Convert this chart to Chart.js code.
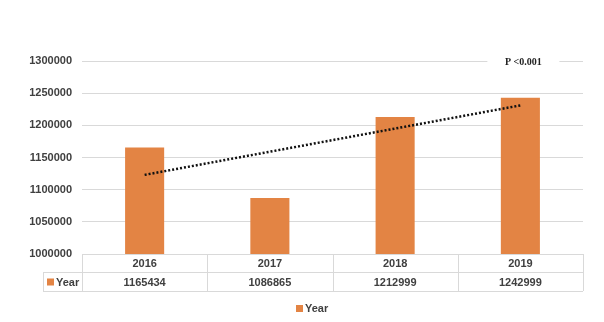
<!DOCTYPE html>
<html>
<head>
<meta charset="utf-8">
<script src="https://cdn.jsdelivr.net/npm/chart.js@4/dist/chart.umd.min.js"></script>
<style>
  html, body { margin: 0; padding: 0; background: #fff; }
  #wrap { width: 604px; height: 322px; }
</style>
</head>
<body>
<div id="wrap"><canvas id="chart" width="604" height="322"></canvas></div>
<script>
// values
const years = ["2016", "2017", "2018", "2019"];
const yearValues = [1165434, 1086865, 1212999, 1242999];
// dotted trend line, ends
const trendValues = [1123000, null, null, 1231000];
const seriesName = "Year";
const pLabel = "P <0.001";

const orange = "#E38444";
const gridColor = "#d9d9d9";
const textColor = "#404040";
const font = "bold 11px 'Liberation Sans', Arial, sans-serif";

// draws the data table under the plot, the bottom legend and the P label
const tablePlugin = {
  id: "tablePlugin",
  afterDraw(chart) {
    const ctx = chart.ctx;
    const x = chart.scales.x;
    const area = chart.chartArea;
    const n = years.length;
    const colW = (area.right - area.left) / n;
    const top = area.bottom;
    const mid = top + 18;
    const bot = mid + 19;
    const legendLeft = 43;

    ctx.save();
    ctx.strokeStyle = gridColor;
    ctx.lineWidth = 1;
    ctx.beginPath();
    // horizontal lines
    ctx.moveTo(area.left, top + 0.5); ctx.lineTo(area.right, top + 0.5);
    ctx.moveTo(legendLeft, mid + 0.5); ctx.lineTo(area.right, mid + 0.5);
    ctx.moveTo(legendLeft, bot + 0.5); ctx.lineTo(area.right, bot + 0.5);
    // vertical lines
    for (let i = 0; i <= n; i++) {
      const xx = Math.round(area.left + i * colW) + 0.5;
      ctx.moveTo(xx, top); ctx.lineTo(xx, bot);
    }
    ctx.moveTo(legendLeft + 0.5, mid); ctx.lineTo(legendLeft + 0.5, bot);
    ctx.stroke();

    ctx.font = font;
    ctx.fillStyle = textColor;
    ctx.textAlign = "center";
    ctx.textBaseline = "middle";
    years.forEach((y, i) => {
      const cx = x.getPixelForValue(i);
      ctx.fillText(y, cx, (top + mid) / 2 + 1);
      ctx.fillText(String(yearValues[i]), cx, (mid + bot) / 2 + 1);
    });

    // legend key inside the table
    ctx.fillStyle = orange;
    ctx.fillRect(legendLeft + 4, (mid + bot) / 2 - 3, 7, 7);
    ctx.fillStyle = textColor;
    ctx.textAlign = "left";
    ctx.fillText(seriesName, legendLeft + 13, (mid + bot) / 2 + 1);

    // bottom legend
    const ly = 308;
    ctx.fillStyle = orange;
    ctx.fillRect(296, ly - 3, 7, 7);
    ctx.fillStyle = textColor;
    ctx.fillText(seriesName, 305, ly + 1);

    // P label sitting on the top gridline
    const px = x.getPixelForValue(n - 1) + 3;
    const py = chart.scales.y.getPixelForValue(1300000);
    ctx.fillStyle = "#fff";
    ctx.fillRect(px - 36, py - 6, 72, 12);
    ctx.font = "bold 10px 'Liberation Serif', 'Times New Roman', serif";
    ctx.fillStyle = "#222";
    ctx.textAlign = "center";
    ctx.fillText(pLabel, px, py + 1);
    ctx.restore();
  }
};

new Chart(document.getElementById("chart"), {
  type: "bar",
  data: {
    labels: years,
    datasets: [
      {
        type: "line",
        label: "Trend",
        data: trendValues,
        spanGaps: true,
        borderColor: "#111",
        borderWidth: 2.5,
        borderDash: [2, 2],
        pointRadius: 0,
        fill: false,
        order: 0
      },
      {
        label: seriesName,
        data: yearValues,
        backgroundColor: orange,
        borderWidth: 0,
        categoryPercentage: 0.8,
        barPercentage: 0.39,
        order: 1
      }
    ]
  },
  options: {
    responsive: false,
    animation: false,
    layout: { padding: { top: 61, right: 21, bottom: 68, left: 0 } },
    plugins: {
      legend: { display: false },
      tooltip: { enabled: false }
    },
    scales: {
      x: {
        display: false,
        offset: true
      },
      y: {
        min: 1000000,
        max: 1300000,
        ticks: {
          stepSize: 50000,
          padding: 10,
          color: textColor,
          font: { family: "'Liberation Sans', Arial, sans-serif", size: 11, weight: "bold" },
          callback: (v) => String(v)
        },
        grid: { color: gridColor, drawTicks: false },
        border: { display: false },
        afterFit(scale) { scale.width = 82; }
      }
    }
  },
  plugins: [tablePlugin]
});
</script>
</body>
</html>
